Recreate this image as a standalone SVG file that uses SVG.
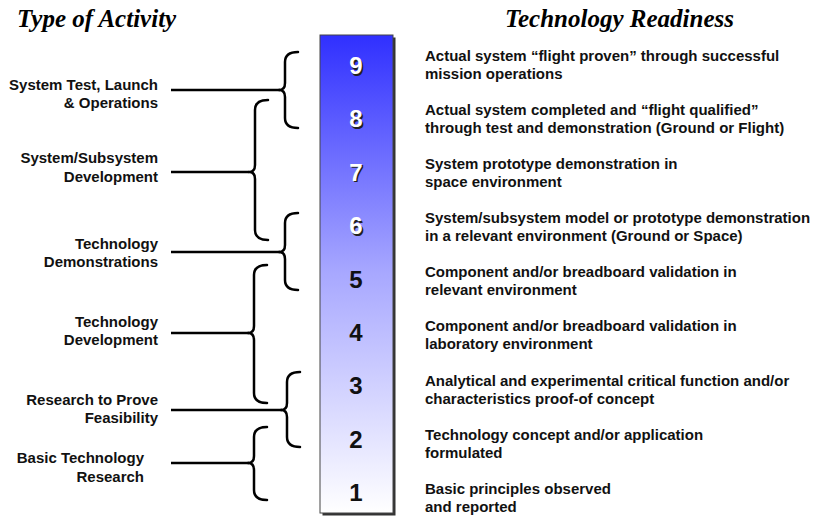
<svg xmlns="http://www.w3.org/2000/svg" width="820" height="516" viewBox="0 0 820 516">
<defs>
<linearGradient id="trl" x1="0" y1="0" x2="0" y2="1">
<stop offset="0" stop-color="#3030ff"/>
<stop offset="0.5" stop-color="#a8a8ff"/>
<stop offset="1" stop-color="#ffffff"/>
</linearGradient>
<style>
.hdr{font-family:"Liberation Serif","Times New Roman",serif;font-weight:bold;font-style:italic;font-size:25px;fill:#000}
.lab{font-family:"Liberation Sans",Arial,sans-serif;font-weight:bold;font-size:15px;fill:#111;text-anchor:end}
.desc{font-family:"Liberation Sans",Arial,sans-serif;font-weight:bold;font-size:15px;fill:#111}
.num{font-family:"Liberation Sans",Arial,sans-serif;font-weight:bold;font-size:24px;text-anchor:middle}
.w{fill:#fff}
.sh{fill:#222}
.b{fill:#111}
.brace{fill:none;stroke:#000;stroke-width:2.5;stroke-linecap:round;stroke-linejoin:round}
.conn{fill:none;stroke:#000;stroke-width:2.5}
</style>
</defs>
<rect width="820" height="516" fill="#fff"/>
<text class="hdr" x="17" y="27">Type of Activity</text>
<text class="hdr" x="505" y="27">Technology Readiness</text>

<g id="scale">
<rect x="322.5" y="37.5" width="73" height="478" fill="#333"/>
<rect x="320" y="35" width="73" height="478" fill="url(#trl)" stroke="#444" stroke-width="1"/>
<text class="num sh" x="357.5" y="75.5">9</text><text class="num w" x="356" y="74">9</text>
<text class="num sh" x="357.5" y="128.9">8</text><text class="num w" x="356" y="127.4">8</text>
<text class="num sh" x="357.5" y="182.3">7</text><text class="num w" x="356" y="180.8">7</text>
<text class="num sh" x="357.5" y="235.7">6</text><text class="num w" x="356" y="234.2">6</text>
<text class="num b" x="356" y="287.6">5</text>
<text class="num b" x="356" y="341">4</text>
<text class="num b" x="356" y="394.4">3</text>
<text class="num b" x="356" y="447.8">2</text>
<text class="num b" x="356" y="501.2">1</text>
</g>

<g id="activity-1">
<text class="lab" x="158" y="90">System Test, Launch</text>
<text class="lab" x="158" y="108">&amp; Operations</text>
<path class="brace" d="M298,52 Q285,52 285,62 L285,83 Q285,90 279,90 Q285,90 285,97 L285,118 Q285,128 298,128"/>
</g>
<g id="activity-2">
<text class="lab" x="158" y="163">System/Subsystem</text>
<text class="lab" x="158" y="182">Development</text>
<path class="brace" d="M268,100 Q255,100 255,110 L255,165 Q255,172 249,172 Q255,172 255,179 L255,230 Q255,240 268,240"/>
</g>
<g id="activity-3">
<text class="lab" x="158" y="249">Technology</text>
<text class="lab" x="158" y="267">Demonstrations</text>
<path class="brace" d="M298,213 Q285,213 285,223 L285,245 Q285,252 279,252 Q285,252 285,259 L285,280 Q285,290 298,290"/>
</g>
<g id="activity-4">
<text class="lab" x="158" y="327">Technology</text>
<text class="lab" x="158" y="345">Development</text>
<path class="brace" d="M267,265 Q254,265 254,275 L254,326 Q254,333 248,333 Q254,333 254,340 L254,393 Q254,403 267,403"/>
</g>
<g id="activity-5">
<text class="lab" x="158" y="405">Research to Prove</text>
<text class="lab" x="158" y="423">Feasibility</text>
<path class="brace" d="M300,372 Q287,372 287,382 L287,403 Q287,410 281,410 Q287,410 287,417 L287,437 Q287,447 300,447"/>
</g>
<g id="activity-6">
<text class="lab" x="144" y="463">Basic Technology</text>
<text class="lab" x="144" y="482">Research</text>
<path class="brace" d="M267,427 Q254,427 254,437 L254,456 Q254,463 248,463 Q254,463 254,470 L254,490 Q254,500 267,500"/>
</g>

<g id="connectors">
<line class="conn" x1="171" y1="90" x2="280" y2="90"/>
<line class="conn" x1="171" y1="172" x2="249" y2="172"/>
<line class="conn" x1="171" y1="252" x2="280" y2="252"/>
<line class="conn" x1="171" y1="333" x2="249" y2="333"/>
<line class="conn" x1="171" y1="410" x2="282" y2="410"/>
<line class="conn" x1="171" y1="463" x2="249" y2="463"/>
</g>

<g id="trl-9"><text class="desc" x="425" y="61">Actual system “flight proven” through successful</text><text class="desc" x="425" y="79">mission operations</text></g>
<g id="trl-8"><text class="desc" x="425" y="115">Actual system completed and “flight qualified”</text><text class="desc" x="425" y="133">through test and demonstration (Ground or Flight)</text></g>
<g id="trl-7"><text class="desc" x="425" y="169">System prototype demonstration in</text><text class="desc" x="425" y="187">space environment</text></g>
<g id="trl-6"><text class="desc" x="425" y="223">System/subsystem model or prototype demonstration</text><text class="desc" x="425" y="241">in a relevant environment (Ground or Space)</text></g>
<g id="trl-5"><text class="desc" x="425" y="277">Component and/or breadboard validation in</text><text class="desc" x="425" y="295">relevant environment</text></g>
<g id="trl-4"><text class="desc" x="425" y="331">Component and/or breadboard validation in</text><text class="desc" x="425" y="349">laboratory environment</text></g>
<g id="trl-3"><text class="desc" x="425" y="386">Analytical and experimental critical function and/or</text><text class="desc" x="425" y="404">characteristics proof-of concept</text></g>
<g id="trl-2"><text class="desc" x="425" y="440">Technology concept and/or application</text><text class="desc" x="425" y="458">formulated</text></g>
<g id="trl-1"><text class="desc" x="425" y="494">Basic principles observed</text><text class="desc" x="425" y="512">and reported</text></g>
</svg>
